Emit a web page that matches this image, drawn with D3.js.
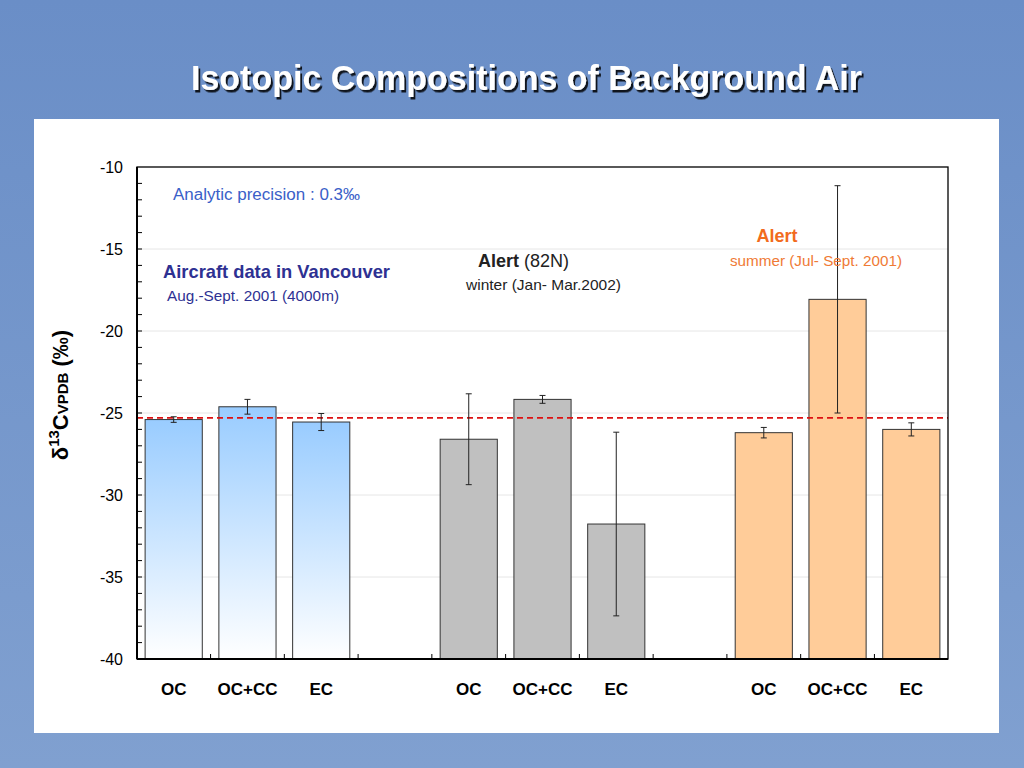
<!DOCTYPE html>
<html><head><meta charset="utf-8">
<script src="https://cdn.jsdelivr.net/npm/d3@7"></script>
<style>html,body{margin:0;padding:0;}svg{display:block;}</style>
</head><body>
<script>
// ---- data ----
const categories = ["OC","OC+CC","EC","","OC","OC+CC","EC","","OC","OC+CC","EC"];
const groups = ["vancouver","vancouver","vancouver",null,"winter","winter","winter",null,"summer","summer","summer"];
const values = [-25.4,-24.62,-25.55,null,-26.6,-24.17,-31.77,null,-26.2,-18.07,-26.0];
const errors = [0.17,0.45,0.52,null,2.77,0.24,5.6,null,0.32,6.93,0.4];
const yTicks = [-10,-15,-20,-25,-30,-35,-40];
const referenceLine = -25.3;

const W=1024,H=768;
const svg=d3.select("body").append("svg").attr("width",W).attr("height",H);
const defs=svg.append("defs");
const bg=defs.append("linearGradient").attr("id","bg").attr("x1",0).attr("y1",0).attr("x2",0).attr("y2",1);
bg.append("stop").attr("offset","0").attr("stop-color","#6a8ec7");
bg.append("stop").attr("offset","1").attr("stop-color","#80a0d0");
const bl=defs.append("linearGradient").attr("id","blueBar").attr("x1",0).attr("y1",0).attr("x2",0).attr("y2",1);
bl.append("stop").attr("offset","0").attr("stop-color","#99ccff");
bl.append("stop").attr("offset","1").attr("stop-color","#ffffff");
const sh=defs.append("filter").attr("id","shadow").attr("x","-10%").attr("y","-10%").attr("width","130%").attr("height","140%");
sh.append("feDropShadow").attr("dx",2).attr("dy",2.5).attr("stdDeviation",0.6).attr("flood-color","#000").attr("flood-opacity",0.85);

svg.append("rect").attr("width",W).attr("height",H).attr("fill","url(#bg)");
svg.append("rect").attr("x",34).attr("y",119).attr("width",965).attr("height",614).attr("fill","#ffffff");

svg.append("text").attr("x",191).attr("y",90)
  .attr("font-family","'Liberation Sans',Arial,sans-serif").attr("font-weight","bold")
  .attr("font-size",35).attr("fill","#ffffff").attr("filter","url(#shadow)")
  .attr("textLength",671).attr("lengthAdjust","spacingAndGlyphs")
  .text("Isotopic Compositions of Background Air");

const L=137,R=948,T=167,B=659;
const x=d3.scaleBand().domain(d3.range(categories.length)).range([L,R]).paddingInner(0.225).paddingOuter(0.11);
const y=d3.scaleLinear().domain([-40,-10]).range([B,T]);

// gridlines
svg.append("g").selectAll("line").data(yTicks.filter(v=>v>-40&&v<-10)).join("line")
  .attr("x1",L).attr("x2",R).attr("y1",d=>y(d)).attr("y2",d=>y(d))
  .attr("stroke","#e6e6e6").attr("stroke-width",1);

const fill={vancouver:"url(#blueBar)",winter:"#c0c0c0",summer:"#ffcc99"};
const idx=d3.range(categories.length).filter(i=>values[i]!==null);
svg.append("g").selectAll("rect").data(idx).join("rect")
  .attr("x",i=>x(i)).attr("width",x.bandwidth())
  .attr("y",i=>y(values[i])).attr("height",i=>y(-40)-y(values[i]))
  .attr("fill",i=>fill[groups[i]]).attr("stroke","#333333").attr("stroke-width",1);

// reference dashed line
svg.append("line").attr("x1",L).attr("x2",R).attr("y1",y(referenceLine)).attr("y2",y(referenceLine))
  .attr("stroke","#dd1111").attr("stroke-width",1.6).attr("stroke-dasharray","6,4");

// error bars
const eg=svg.append("g").attr("stroke","#222").attr("stroke-width",1);
idx.forEach(i=>{
  const cx=x(i)+x.bandwidth()/2, lo=y(values[i]-errors[i]), hi=y(values[i]+errors[i]);
  eg.append("line").attr("x1",cx).attr("x2",cx).attr("y1",lo).attr("y2",hi);
  eg.append("line").attr("x1",cx-3).attr("x2",cx+3).attr("y1",lo).attr("y2",lo);
  eg.append("line").attr("x1",cx-3).attr("x2",cx+3).attr("y1",hi).attr("y2",hi);
});

// frame
svg.append("rect").attr("x",L).attr("y",T).attr("width",R-L).attr("height",B-T)
  .attr("fill","none").attr("stroke","#000").attr("stroke-width",1.3);
svg.append("line").attr("x1",L).attr("x2",R).attr("y1",B).attr("y2",B).attr("stroke","#000").attr("stroke-width",2);
svg.append("line").attr("x1",L).attr("x2",L).attr("y1",T).attr("y2",B).attr("stroke","#000").attr("stroke-width",2);

// y axis
const yAxis=d3.axisLeft(y).tickValues(yTicks).tickSize(0).tickPadding(14).tickFormat(d=>String(d));
const ya=svg.append("g").attr("transform",`translate(${L},0)`).call(yAxis);
ya.select(".domain").remove();
ya.selectAll("text").attr("font-family","'Liberation Sans',Arial,sans-serif").attr("font-size",16).attr("fill","#000");
// minor inward ticks
svg.append("g").selectAll("line").data(d3.range(-39,-10)).join("line")
  .attr("x1",L).attr("x2",L+5).attr("y1",d=>y(d)).attr("y2",d=>y(d)).attr("stroke","#000").attr("stroke-width",1);

// x axis
const xa=svg.append("g").attr("transform",`translate(0,${B})`)
  .call(d3.axisBottom(x).tickSize(0).tickPadding(24).tickFormat(i=>categories[i]));
xa.select(".domain").remove();
xa.selectAll("text").attr("font-family","'Liberation Sans',Arial,sans-serif")
  .attr("font-weight","bold").attr("font-size",17).attr("fill","#000");
// slot boundary ticks (inward)
const step=x.step();
svg.append("g").selectAll("line").data(d3.range(1,categories.length)).join("line")
  .attr("x1",i=>x(i)-step*x.paddingInner()/2).attr("x2",i=>x(i)-step*x.paddingInner()/2)
  .attr("y1",B).attr("y2",B-5).attr("stroke","#000");

// y label
const yl=svg.append("text").attr("transform","translate(68,395) rotate(-90)").attr("text-anchor","middle")
  .attr("font-family","'Liberation Sans',Arial,sans-serif").attr("font-weight","bold").attr("font-size",22).attr("fill","#000");
yl.append("tspan").text("δ");
yl.append("tspan").attr("dy",-9).attr("font-size",15).text("13");
yl.append("tspan").attr("dy",9).text("C");
yl.append("tspan").attr("font-size",15).text("VPDB");
yl.append("tspan").text(" (‰)");

// annotations
const ann=svg.append("g").attr("font-family","'Liberation Sans',Arial,sans-serif");
ann.append("text").attr("x",173).attr("y",200).attr("font-size",16).attr("fill","#3a60c8")
  .attr("textLength",187).attr("lengthAdjust","spacingAndGlyphs").text("Analytic precision : 0.3‰");
ann.append("text").attr("x",163).attr("y",278).attr("font-size",19).attr("font-weight","bold").attr("fill","#2e3192")
  .attr("textLength",227).attr("lengthAdjust","spacingAndGlyphs").text("Aircraft data in Vancouver");
ann.append("text").attr("x",167).attr("y",301).attr("font-size",15).attr("fill","#2e3192")
  .attr("textLength",172).attr("lengthAdjust","spacingAndGlyphs").text("Aug.-Sept. 2001 (4000m)");
const a2=ann.append("text").attr("x",478).attr("y",267).attr("font-size",18).attr("fill","#222");
a2.append("tspan").attr("font-weight","bold").text("Alert");
a2.append("tspan").text(" (82N)");
ann.append("text").attr("x",466).attr("y",290).attr("font-size",15).attr("fill","#222")
  .attr("textLength",155).attr("lengthAdjust","spacingAndGlyphs").text("winter (Jan- Mar.2002)");
ann.append("text").attr("x",777).attr("y",242).attr("text-anchor","middle").attr("font-size",18).attr("font-weight","bold").attr("fill","#f26b1d")
  .text("Alert");
ann.append("text").attr("x",730).attr("y",266).attr("font-size",15).attr("fill","#ef7a35")
  .attr("textLength",172).attr("lengthAdjust","spacingAndGlyphs").text("summer (Jul- Sept. 2001)");
</script>
</body></html>
